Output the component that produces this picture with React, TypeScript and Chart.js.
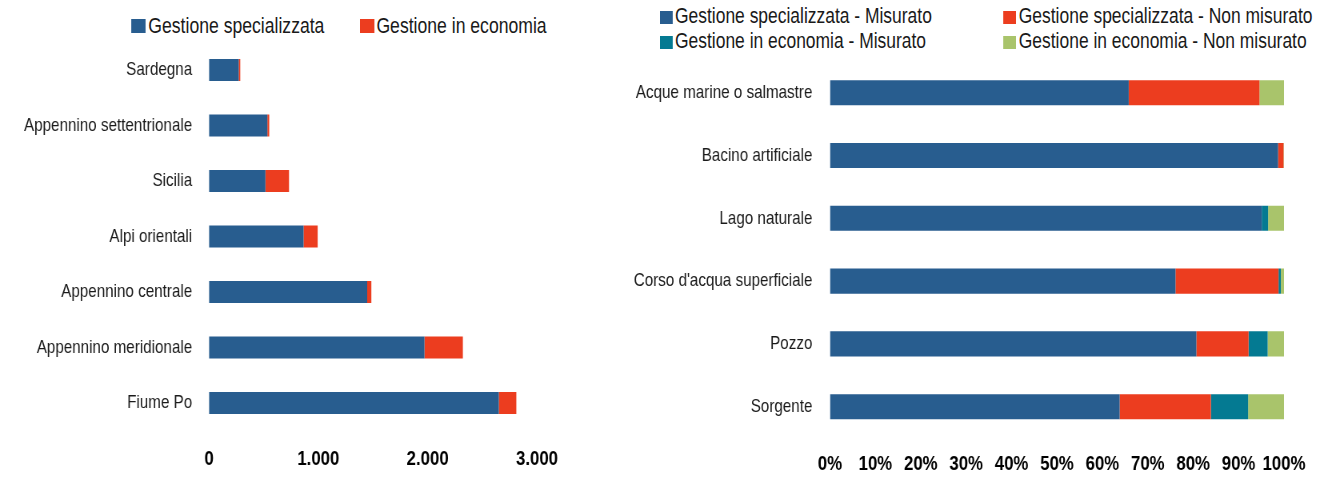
import React, { useEffect, useRef } from "react";
import { Chart, registerables } from "chart.js";

Chart.register(...registerables);

// ---------- DATA ----------
const regions = [
  "Sardegna",
  "Appennino settentrionale",
  "Sicilia",
  "Alpi orientali",
  "Appennino centrale",
  "Appennino meridionale",
  "Fiume Po",
];
const gestioneSpecializzata = [272, 534, 516, 865, 1447, 1971, 2651];
const gestioneEconomia = [14, 17, 216, 129, 38, 351, 160];
const leftTicks = [0, 1000, 2000, 3000];

const sources = [
  "Acque marine o salmastre",
  "Bacino artificiale",
  "Lago naturale",
  "Corso d'acqua superficiale",
  "Pozzo",
  "Sorgente",
];
const specMisurato = [65.8, 98.7, 95.1, 76.1, 80.7, 63.8];
const specNonMisurato = [28.8, 1.2, 0, 22.7, 11.5, 20.1];
const econMisurato = [0, 0, 1.4, 0.5, 4.2, 8.2];
const econNonMisurato = [5.4, 0.1, 3.5, 0.7, 3.6, 7.9];
const rightTicks = [0, 10, 20, 30, 40, 50, 60, 70, 80, 90, 100];

const leftLegendLabels = ["Gestione specializzata", "Gestione in economia"];
const rightLegendLabels = [
  "Gestione specializzata - Misurato",
  "Gestione specializzata - Non misurato",
  "Gestione in economia - Misurato",
  "Gestione in economia - Non misurato",
];

// ---------- STYLE ----------
const SX = 0.8; // horizontal condensation of the whole picture
const FULL_W = 1327 / SX;
const FONT = "'Liberation Sans', Arial, Helvetica, sans-serif";
const BLUE = "#285d8f";
const RED = "#ec3d1f";
const TEAL = "#047a92";
const GREEN = "#a9c46b";
const TEXT = "#1a1a1a";

const fmtThousands = (v: number) =>
  String(Math.round(v)).replace(/\B(?=(\d{3})+(?!\d))/g, ".");

type ChartGeom = {
  width: number;
  height: number;
  yAxisWidth: number;
  xAxisHeight: number;
  padTop: number;
  padRight: number;
  yPad: number;
  xPad: number;
};

function makeOptions(
  geom: ChartGeom,
  max: number,
  ticks: number[],
  fmt: (v: number) => string
): any {
  return {
    indexAxis: "y",
    responsive: false,
    animation: false,
    events: [],
    layout: {
      padding: { top: geom.padTop, right: geom.padRight, left: 0, bottom: 0 },
    },
    plugins: { legend: { display: false }, tooltip: { enabled: false } },
    scales: {
      x: {
        stacked: true,
        min: 0,
        max,
        grid: { display: false, drawTicks: false },
        border: { display: false },
        afterBuildTicks: (s: any) => {
          s.ticks = ticks.map((v) => ({ value: v }));
        },
        afterFit: (s: any) => {
          s.height = geom.xAxisHeight;
        },
        ticks: {
          padding: geom.xPad,
          color: "#000",
          maxRotation: 0,
          autoSkip: false,
          font: { family: FONT, size: 21, weight: "bold" },
          callback: (v: any) => fmt(Number(v)),
        },
      },
      y: {
        stacked: true,
        grid: { display: false, drawTicks: false },
        border: { display: false },
        afterFit: (s: any) => {
          s.width = geom.yAxisWidth;
        },
        ticks: {
          padding: geom.yPad,
          color: TEXT,
          autoSkip: false,
          font: { family: FONT, size: 19 },
        },
      },
    },
  };
}

const LEFT_GEOM: ChartGeom = {
  width: 760,
  height: 479,
  yAxisWidth: 261.25,
  xAxisHeight: 48.25,
  padTop: 42.25,
  padRight: 88.75,
  yPad: 21,
  xPad: 16,
};

const RIGHT_LEFT = 760;
const RIGHT_GEOM: ChartGeom = {
  width: 899,
  height: 479,
  yAxisWidth: 277.5,
  xAxisHeight: 40.9,
  padTop: 61.3,
  padRight: 54,
  yPad: 22,
  xPad: 14,
};

function LegendItem(props: {
  boxX: number;
  boxW: number;
  boxH: number;
  textX: number;
  baseline: number;
  color: string;
  label: string;
  size: number;
}) {
  const { boxX, boxW, boxH, textX, baseline, color, label, size } = props;
  return (
    <>
      <div
        style={{
          position: "absolute",
          left: boxX,
          top: baseline - boxH,
          width: boxW,
          height: boxH,
          background: color,
        }}
      />
      <span
        style={{
          position: "absolute",
          left: textX,
          top: baseline - 0.8464 * size,
          fontFamily: FONT,
          fontSize: size,
          lineHeight: `${size}px`,
          color: TEXT,
          whiteSpace: "nowrap",
        }}
      >
        {label}
      </span>
    </>
  );
}

export default function App() {
  const leftRef = useRef<HTMLCanvasElement | null>(null);
  const rightRef = useRef<HTMLCanvasElement | null>(null);

  useEffect(() => {
    document.body.style.overflow = "hidden";
    document.body.style.background = "#fff";
    const barOpts = { categoryPercentage: 0.8, barPercentage: 0.5, borderWidth: 0 };

    const left = new Chart(leftRef.current as HTMLCanvasElement, {
      type: "bar",
      data: {
        labels: regions,
        datasets: [
          { label: leftLegendLabels[0], data: gestioneSpecializzata, backgroundColor: BLUE, ...barOpts },
          { label: leftLegendLabels[1], data: gestioneEconomia, backgroundColor: RED, ...barOpts },
        ],
      },
      options: makeOptions(LEFT_GEOM, 3000, leftTicks, fmtThousands),
    });

    const right = new Chart(rightRef.current as HTMLCanvasElement, {
      type: "bar",
      data: {
        labels: sources,
        datasets: [
          { label: rightLegendLabels[0], data: specMisurato, backgroundColor: BLUE, ...barOpts },
          { label: rightLegendLabels[1], data: specNonMisurato, backgroundColor: RED, ...barOpts },
          { label: rightLegendLabels[2], data: econMisurato, backgroundColor: TEAL, ...barOpts },
          { label: rightLegendLabels[3], data: econNonMisurato, backgroundColor: GREEN, ...barOpts },
        ],
      },
      options: makeOptions(RIGHT_GEOM, 100, rightTicks, (v) => `${v}%`),
    });

    return () => {
      left.destroy();
      right.destroy();
    };
  }, []);

  return (
    <div
      style={{
        position: "absolute",
        left: 0,
        top: 0,
        width: FULL_W,
        height: 479,
        transform: `scaleX(${SX})`,
        transformOrigin: "0 0",
        background: "#fff",
        overflow: "hidden",
      }}
    >
      {/* left legend */}
      <LegendItem boxX={163.75} boxW={18} boxH={14} textX={185.4} baseline={33.3} color={BLUE} label={leftLegendLabels[0]} size={22} />
      <LegendItem boxX={450.4} boxW={18} boxH={14} textX={470.5} baseline={33.3} color={RED} label={leftLegendLabels[1]} size={22} />

      {/* right legend */}
      <LegendItem boxX={824.5} boxW={16} boxH={13} textX={843.75} baseline={23.7} color={BLUE} label={rightLegendLabels[0]} size={21.8} />
      <LegendItem boxX={1254} boxW={16} boxH={13} textX={1273.5} baseline={23.7} color={RED} label={rightLegendLabels[1]} size={21.8} />
      <LegendItem boxX={824.5} boxW={16} boxH={13} textX={843.75} baseline={48.7} color={TEAL} label={rightLegendLabels[2]} size={21.8} />
      <LegendItem boxX={1254} boxW={16} boxH={13} textX={1273.5} baseline={48.7} color={GREEN} label={rightLegendLabels[3]} size={21.8} />

      <canvas
        ref={leftRef}
        width={LEFT_GEOM.width}
        height={LEFT_GEOM.height}
        style={{ position: "absolute", left: 0, top: 0, width: LEFT_GEOM.width, height: LEFT_GEOM.height }}
      />
      <canvas
        ref={rightRef}
        width={RIGHT_GEOM.width}
        height={RIGHT_GEOM.height}
        style={{ position: "absolute", left: RIGHT_LEFT, top: 0, width: RIGHT_GEOM.width, height: RIGHT_GEOM.height }}
      />
    </div>
  );
}
